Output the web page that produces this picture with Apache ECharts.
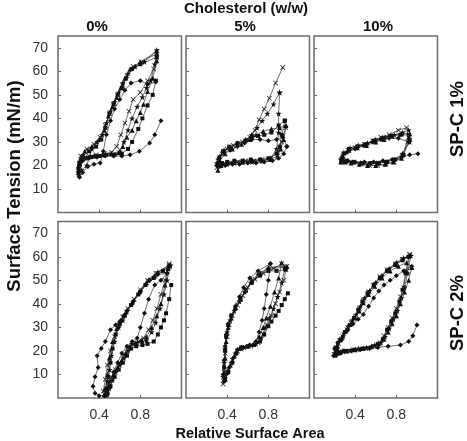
<!DOCTYPE html>
<html>
<head>
<meta charset="utf-8">
<script src="https://cdn.jsdelivr.net/npm/echarts@6/dist/echarts.min.js"></script>
<style>html,body{margin:0;padding:0;background:#fff;}#c{width:467px;height:441px;}</style>
</head>
<body>
<div id="c"></div>
<script>
// ---- tick labels / categories ----
const colTitles = ['0%', '5%', '10%'];
const rowTitles = ['SP-C 1%', 'SP-C 2%'];
const xTicks = [0.4, 0.8];
const yTicks = [10, 20, 30, 40, 50, 60, 70];

// ---- data: [relative area, surface tension] ----
// Panel 0% / SP-C 1%
const p00_diamond = [[1.00,39],[0.94,33],[0.89,29.5],[0.79,26],[0.70,24.5],[0.62,24],[0.54,24],[0.46,24],[0.38,23.5],[0.30,23],[0.24,22],[0.21,20],[0.20,17],[0.21,15],[0.24,17],[0.29,19.5],[0.35,20.5],[0.41,21],[0.44,26],[0.47,33],[0.51,39],[0.55,44],[0.60,48],[0.65,52],[0.71,55],[0.80,56],[0.87,54.5],[0.95,55.5]];
const p00_rect = [[0.95,56],[0.92,50],[0.87,45.5],[0.82,40],[0.78,35.5],[0.72,30],[0.68,27],[0.62,25],[0.55,24.5],[0.47,24.5],[0.40,24],[0.32,23.5],[0.25,23],[0.21,21],[0.20,18],[0.21,20],[0.24,24],[0.30,26],[0.37,28],[0.42,31],[0.46,36],[0.50,42],[0.54,46],[0.58,50],[0.62,53],[0.66,57],[0.72,61],[0.80,63],[0.96,66]];
const p00_triangle = [[0.96,64.5],[0.92,57],[0.87,51.4],[0.83,46],[0.80,42.5],[0.76,39],[0.72,35],[0.67,32],[0.63,28],[0.59,25.5],[0.52,25],[0.44,24.5],[0.36,24],[0.28,23.5],[0.22,23],[0.20,20],[0.20,17],[0.22,22],[0.26,26],[0.33,28],[0.40,31],[0.45,35],[0.49,41],[0.53,45],[0.57,49],[0.61,53],[0.65,57],[0.70,61],[0.80,64],[0.96,67.5]];
const p00_x = [[0.96,66],[0.93,61],[0.87,56],[0.80,51],[0.73,48],[0.69,43],[0.65,38],[0.61,33],[0.57,28],[0.52,25.5],[0.45,25],[0.37,24.5],[0.30,24],[0.24,23],[0.21,21],[0.20,18],[0.22,24],[0.28,27],[0.35,29],[0.41,32],[0.46,37],[0.50,42],[0.54,46],[0.58,50],[0.63,54],[0.67,58],[0.73,62],[0.81,64],[0.96,68.5]];
const p00_star = [[0.96,68],[0.94,63],[0.90,56],[0.86,53],[0.82,49],[0.77,45],[0.72,40],[0.68,35],[0.64,30],[0.60,26],[0.52,25],[0.43,24.5],[0.35,24],[0.27,23],[0.21,21],[0.20,16],[0.23,18],[0.28,20],[0.33,27],[0.38,30],[0.43,33],[0.47,38],[0.51,43],[0.55,47],[0.59,51],[0.63,55],[0.68,59],[0.75,62],[0.84,64],[0.96,69]];

// Panel 5% / SP-C 1%
const p01_diamond = [[0.98,28],[0.95,25],[0.90,23],[0.84,22],[0.76,21.5],[0.68,21],[0.60,21],[0.52,20.5],[0.45,20.5],[0.38,20],[0.33,19.5],[0.30,20],[0.32,23],[0.37,25.5],[0.43,26.5],[0.50,28],[0.57,29.5],[0.64,31],[0.72,31],[0.80,30.5],[0.88,31],[0.94,32],[0.98,28]];
const p01_rect = [[0.96,39],[0.93,33],[0.91,28],[0.88,25],[0.80,23],[0.72,22.5],[0.63,22.5],[0.55,22],[0.47,22],[0.40,21.5],[0.35,21],[0.31,20],[0.32,23],[0.36,26],[0.42,28],[0.50,29.5],[0.58,30.5],[0.64,32],[0.70,32.5],[0.76,33],[0.83,34],[0.90,37],[0.96,39]];
const p01_triangle = [[0.97,37],[0.95,31],[0.92,27],[0.89,24],[0.82,22.5],[0.74,22],[0.64,22],[0.55,21.5],[0.47,21.5],[0.40,21],[0.34,20],[0.31,18],[0.33,22],[0.38,25],[0.45,27],[0.54,29],[0.62,31],[0.68,33],[0.75,34.5],[0.83,35.5],[0.91,36],[0.97,37]];
const p01_x = [[0.97,36],[0.93,30],[0.89,25.5],[0.82,23],[0.74,22.5],[0.66,22],[0.58,22],[0.50,21.5],[0.43,21],[0.37,20.5],[0.32,20],[0.30,19],[0.31,22],[0.35,25],[0.40,27],[0.46,28.5],[0.55,30],[0.62,32],[0.67,35],[0.71,39.4],[0.76,44],[0.81,48.6],[0.87,55],[0.94,61.6]];
const p01_star = [[0.91,51],[0.90,42],[0.90,34],[0.88,27],[0.82,23],[0.74,22],[0.64,21.5],[0.55,21.5],[0.47,21],[0.40,20.5],[0.34,20],[0.30,21],[0.33,24],[0.37,26.5],[0.43,27.5],[0.50,29],[0.58,31],[0.64,33],[0.69,36],[0.74,39],[0.79,42],[0.85,46],[0.91,51]];

// Panel 10% / SP-C 1%
const p02_diamond = [[1.01,25],[0.93,24.5],[0.85,23.5],[0.76,22.5],[0.67,22],[0.58,21.5],[0.49,21.5],[0.40,21.5],[0.33,22],[0.27,22],[0.27,23.5],[0.32,25.5],[0.40,27],[0.48,28.5],[0.57,30],[0.65,31],[0.73,31.5],[0.82,31.5],[0.92,30]];
const p02_rect = [[0.93,31],[0.87,24.5],[0.79,22.5],[0.71,21.5],[0.63,21],[0.55,21],[0.47,21],[0.39,21.5],[0.32,22],[0.27,22.5],[0.29,25],[0.34,27],[0.42,28],[0.50,29],[0.58,30.5],[0.66,31.5],[0.74,32.5],[0.84,33],[0.92,33]];
const p02_triangle = [[0.92,32],[0.85,23],[0.77,21.5],[0.69,20.5],[0.60,20],[0.52,20],[0.44,20.5],[0.36,21],[0.30,21.5],[0.26,21.5],[0.28,24],[0.34,26.5],[0.42,27.5],[0.51,28.5],[0.60,30],[0.68,31],[0.76,32.5],[0.85,33.5],[0.93,33.5]];
const p02_x = [[0.91,30],[0.86,24],[0.78,21.5],[0.70,20.5],[0.62,20],[0.54,20],[0.46,20.5],[0.38,21],[0.31,21.5],[0.27,22],[0.28,24],[0.33,26.5],[0.40,27.5],[0.49,29],[0.57,30.5],[0.65,32],[0.73,33],[0.82,35],[0.90,36]];
const p02_star = [[0.93,30],[0.86,25],[0.78,22.5],[0.70,21.5],[0.61,21],[0.53,20.5],[0.45,21],[0.37,21.5],[0.30,22],[0.26,22.5],[0.29,25.5],[0.35,27.5],[0.43,28.5],[0.52,29.5],[0.60,31],[0.69,32],[0.78,33],[0.86,34],[0.92,35]];

// Panel 0% / SP-C 2%
const p10_diamond = [[1.06,53],[1.00,50],[0.94,48],[0.88,42],[0.84,36],[0.80,30],[0.77,25.5],[0.72,24],[0.67,22],[0.62,19],[0.58,15],[0.54,11],[0.50,7],[0.47,3],[0.45,1],[0.40,1],[0.36,2],[0.34,5],[0.36,9],[0.39,13],[0.38,18],[0.42,21],[0.46,24],[0.51,29],[0.56,31],[0.60,32.5],[0.64,35],[0.67,37],[0.73,41],[0.80,45],[0.89,50],[0.97,52.5],[1.06,53]];
const p10_rect = [[1.10,48],[1.08,42],[1.05,36],[1.03,33],[1.00,30],[0.97,27],[0.93,24],[0.87,23],[0.82,22.5],[0.76,22],[0.71,21],[0.67,18],[0.63,15],[0.59,12],[0.55,9],[0.51,5],[0.48,2],[0.46,1],[0.47,4],[0.49,9],[0.51,15],[0.53,21],[0.56,27],[0.60,31.5],[0.65,35],[0.71,39.5],[0.78,44],[0.85,48],[0.93,51],[1.02,54],[1.08,56]];
const p10_triangle = [[1.07,55],[1.04,48],[1.00,40],[0.96,35],[0.91,30],[0.86,26],[0.81,24.5],[0.75,23.5],[0.70,22],[0.66,19],[0.62,16],[0.58,13],[0.54,10],[0.50,6],[0.48,3],[0.46,1.5],[0.46,4],[0.48,10],[0.50,17],[0.53,24],[0.57,29.5],[0.61,33],[0.66,36.5],[0.72,40.5],[0.79,45],[0.86,49],[0.94,52],[1.07,55.5]];
const p10_x = [[1.08,57],[1.04,50],[1.00,44],[0.96,38],[0.92,33],[0.88,29],[0.83,25.5],[0.78,24],[0.73,23],[0.68,21.5],[0.64,18.5],[0.60,15],[0.56,12],[0.52,8.5],[0.49,5],[0.47,2],[0.45,1.5],[0.44,3],[0.46,8],[0.48,14],[0.51,20],[0.55,26],[0.59,31],[0.63,34.5],[0.68,38],[0.74,42],[0.80,46],[0.87,50],[0.95,53],[1.08,56.5]];
const p10_star = [[1.09,56],[1.06,50],[1.03,44],[0.99,38],[0.95,32],[0.91,28],[0.86,24.5],[0.82,24],[0.77,23.5],[0.72,23],[0.68,20],[0.64,17],[0.60,14],[0.56,11],[0.53,7.5],[0.50,4],[0.48,1.5],[0.47,3],[0.48,7],[0.50,12],[0.52,18],[0.55,24],[0.59,30],[0.63,33],[0.67,37],[0.73,41],[0.80,45.5],[0.88,50],[0.97,53.5],[1.09,56.5]];

// Panel 5% / SP-C 2%
const p11_diamond = [[0.82,57],[0.80,50],[0.78,44],[0.76,38],[0.74,33],[0.71,28],[0.68,24],[0.62,22.5],[0.56,21.5],[0.50,20.5],[0.46,17],[0.42,13],[0.39,10],[0.37,7],[0.36,10],[0.37,16],[0.38,22],[0.39,27],[0.41,31.5],[0.44,35],[0.48,39],[0.52,43],[0.56,47],[0.62,51],[0.70,54],[0.82,57]];
const p11_rect = [[0.99,44.5],[0.96,42],[0.93,39.5],[0.90,37],[0.87,35],[0.83,32.5],[0.80,30.5],[0.76,27],[0.72,24],[0.66,22.5],[0.60,22],[0.54,21.5],[0.49,19],[0.45,15],[0.41,11],[0.38,8],[0.37,13],[0.38,20],[0.39,26],[0.41,31],[0.44,35],[0.48,38],[0.53,42],[0.58,45.5],[0.64,49],[0.72,52],[0.80,54],[0.88,54],[0.97,54.5]];
const p11_triangle = [[0.93,57.5],[0.90,51],[0.86,45],[0.82,39],[0.78,34],[0.75,30],[0.71,26],[0.66,23],[0.59,22],[0.52,21],[0.47,18],[0.43,14],[0.40,11],[0.38,8],[0.37,10],[0.38,17],[0.39,24],[0.41,30],[0.44,34],[0.48,38.5],[0.53,42],[0.58,46],[0.64,50],[0.72,53],[0.80,55.5],[0.98,56]];
const p11_x = [[0.98,56],[0.95,50],[0.91,45],[0.87,40],[0.83,35],[0.79,31],[0.75,27],[0.70,23.5],[0.63,22],[0.56,21.5],[0.50,20],[0.45,16],[0.41,12],[0.38,8],[0.36,6],[0.37,11],[0.38,19],[0.40,26],[0.42,31],[0.45,35],[0.50,39.5],[0.55,43.5],[0.60,47],[0.67,50.5],[0.75,53],[0.85,55],[0.93,57]];
const p11_star = [[0.96,55],[0.93,49],[0.89,43],[0.85,38],[0.81,34],[0.77,30],[0.73,25.5],[0.68,23],[0.61,22],[0.54,21],[0.48,19],[0.44,15],[0.40,11],[0.37,7.5],[0.36,9],[0.37,15],[0.38,21],[0.40,28],[0.43,33],[0.47,37],[0.52,41],[0.57,45],[0.63,49],[0.70,52.5],[0.80,55],[0.96,55.5]];

// Panel 10% / SP-C 2%
const p12_diamond = [[1.00,31],[0.96,26.5],[0.92,24],[0.84,22.5],[0.72,22],[0.62,21.5],[0.54,21],[0.45,20.5],[0.36,20],[0.28,20],[0.22,19.5],[0.19,18],[0.20,21],[0.23,23.5],[0.28,26],[0.33,29],[0.38,31.5],[0.43,33.5],[0.48,35.5],[0.53,39],[0.58,42.5],[0.63,45.5],[0.68,48],[0.74,50],[0.80,52],[0.87,54],[0.95,56]];
const p12_rect = [[0.92,60],[0.89,53],[0.86,46],[0.83,41],[0.79,36],[0.75,32.5],[0.71,29],[0.67,25],[0.62,23],[0.55,21.5],[0.47,21],[0.39,20.5],[0.31,20],[0.25,19],[0.21,18],[0.22,21],[0.26,24.5],[0.30,28],[0.35,31],[0.39,34],[0.43,37.5],[0.47,41],[0.52,44.5],[0.58,48],[0.64,51],[0.71,54],[0.79,56.5],[0.86,58.5],[0.92,60]];
const p12_triangle = [[0.95,55.5],[0.92,50],[0.88,45],[0.84,40],[0.80,35],[0.76,31.5],[0.72,28],[0.68,25],[0.63,23],[0.56,22],[0.48,21],[0.40,20.5],[0.32,20],[0.26,19.5],[0.22,19],[0.23,22],[0.27,25.5],[0.31,28.5],[0.36,31.5],[0.40,34],[0.44,37],[0.48,40.5],[0.53,44],[0.59,47.5],[0.66,51],[0.74,54],[0.82,56],[0.90,57.5],[0.95,55.5]];
const p12_x = [[0.93,61],[0.90,54],[0.87,47],[0.84,43],[0.80,38],[0.76,34],[0.72,30],[0.68,26.5],[0.64,23.5],[0.58,22],[0.50,21],[0.42,20.5],[0.35,20],[0.28,19.5],[0.23,19],[0.20,18.5],[0.21,21],[0.24,23],[0.28,26],[0.32,29],[0.36,32],[0.40,34.5],[0.44,38],[0.48,41.5],[0.53,45],[0.58,48],[0.64,51.5],[0.71,54.5],[0.79,57],[0.86,59],[0.93,61]];
const p12_star = [[0.94,60.5],[0.91,53],[0.88,47],[0.85,42.5],[0.81,37],[0.77,33.5],[0.73,29.5],[0.69,26],[0.65,23.5],[0.59,22.5],[0.51,21.5],[0.43,21],[0.36,20.5],[0.29,20],[0.23,20],[0.20,19],[0.22,22],[0.25,25],[0.29,27.5],[0.33,30.5],[0.37,33],[0.41,35.5],[0.45,39],[0.49,42.5],[0.54,45.5],[0.60,49],[0.66,52],[0.73,55],[0.80,57.5],[0.87,59.5],[0.94,60.5]];

const panels = [
  {diamond:p00_diamond, rect:p00_rect, triangle:p00_triangle, x:p00_x, star:p00_star},
  {diamond:p01_diamond, rect:p01_rect, triangle:p01_triangle, x:p01_x, star:p01_star},
  {diamond:p02_diamond, rect:p02_rect, triangle:p02_triangle, x:p02_x, star:p02_star},
  {diamond:p10_diamond, rect:p10_rect, triangle:p10_triangle, x:p10_x, star:p10_star},
  {diamond:p11_diamond, rect:p11_rect, triangle:p11_triangle, x:p11_x, star:p11_star},
  {diamond:p12_diamond, rect:p12_rect, triangle:p12_triangle, x:p12_x, star:p12_star}
];

// ---- styling / layout ----
const FONT = "'Liberation Sans', Arial, Helvetica, sans-serif";
const colLeft = [58, 186, 314];
const rowTop = [36, 221.5];
const GW = 123.5, GH = 176.5;
const symbols = {
  diamond: {symbol:'diamond', size:5},
  rect: {symbol:'rect', size:4},
  triangle: {symbol:'triangle', size:5},
  x: {symbol:'path://M0,1L1,0L5,4L9,0L10,1L6,5L10,9L9,10L5,6L1,10L0,9L4,5Z', size:5},
  star: {symbol:'path://M5,0L6.2,3.6L10,3.8L7,6.1L8.1,10L5,7.7L1.9,10L3,6.1L0,3.8L3.8,3.6Z', size:6}
};

const grids = [], xAxes = [], yAxes = [], series = [];
for (let i = 0; i < 6; i++) {
  const r = Math.floor(i / 3), c = i % 3;
  grids.push({left: colLeft[c], top: rowTop[r], width: GW, height: GH, show: true,
    borderColor: '#6e6e6e', borderWidth: 1.5, backgroundColor: 'transparent'});
  xAxes.push({gridIndex: i, type: 'value', min: 0, max: 1.2,
    axisLine: {show: false}, splitLine: {show: false},
    axisTick: {show: true, inside: true, length: 3, customValues: xTicks, lineStyle: {color: '#666', width: 1}},
    axisLabel: {show: r === 1, customValues: xTicks, formatter: v => v.toFixed(1),
      fontSize: 14, color: '#333', margin: 10, fontFamily: FONT}});
  yAxes.push({gridIndex: i, type: 'value', min: 0, max: 75,
    axisLine: {show: false}, splitLine: {show: false},
    axisTick: {show: true, inside: true, length: 3, customValues: yTicks, lineStyle: {color: '#666', width: 1}},
    axisLabel: {show: c === 0, customValues: yTicks, fontSize: 14, color: '#333', margin: 10, fontFamily: FONT}});
  const p = panels[i];
  Object.keys(symbols).forEach(k => {
    series.push({type: 'line', xAxisIndex: i, yAxisIndex: i, data: p[k],
      symbol: symbols[k].symbol, symbolSize: symbols[k].size, showAllSymbol: true,
      lineStyle: {color: '#333', width: 0.7}, itemStyle: {color: '#111'},
      animation: false, silent: true, z: 3});
  });
}

const txt = (text, x, y, size, rot) => ({type: 'text', x: x, y: y, rotation: rot || 0,
  style: {text: text, font: 'bold ' + size + 'px ' + FONT, fill: '#111',
    align: 'center', verticalAlign: 'middle', textAlign: 'center', textVerticalAlign: 'middle'}});

const graphic = [
  txt('Cholesterol (w/w)', 246, 9, 15),
  txt(colTitles[0], 97, 27, 15),
  txt(colTitles[1], 245, 27, 15),
  txt(colTitles[2], 378, 27, 15),
  txt('Surface Tension (mN/m)', 15, 186, 18.5, Math.PI / 2),
  txt('Relative Surface Area', 250, 434, 14.5),
  txt(rowTitles[0], 458, 119, 18.5, Math.PI / 2),
  txt(rowTitles[1], 458, 313, 18.5, Math.PI / 2)
];

const chart = echarts.init(document.getElementById('c'), null, {renderer: 'canvas'});
chart.setOption({animation: false, grid: grids, xAxis: xAxes, yAxis: yAxes, series: series, graphic: graphic});
</script>
</body>
</html>
